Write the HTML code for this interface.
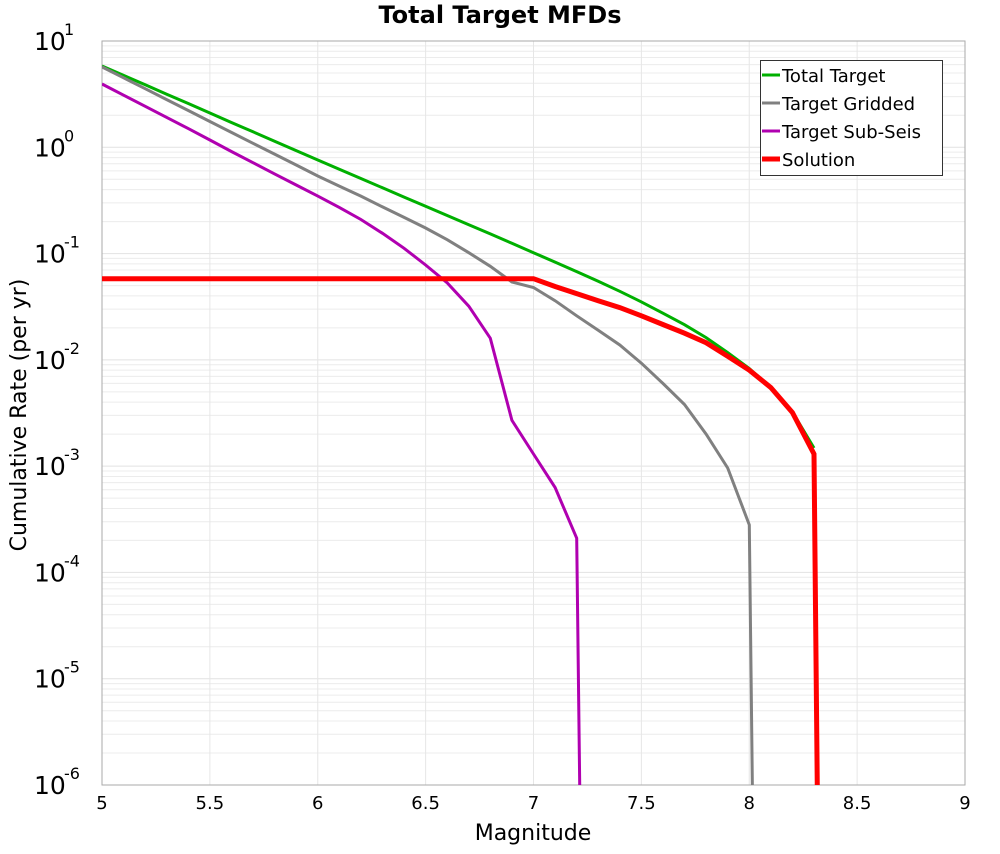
<!DOCTYPE html>
<html><head><meta charset="utf-8"><style>
body{margin:0;background:#fff;width:1000px;height:850px;overflow:hidden;font-family:"DejaVu Sans","Liberation Sans",sans-serif}
</style></head><body>
<svg id="chart" width="1000" height="850" xmlns="http://www.w3.org/2000/svg" font-family="DejaVu Sans, Liberation Sans, sans-serif"></svg>
<script>
const mags = [5.0,5.1,5.2,5.3,5.4,5.5,5.6,5.7,5.8,5.9,6.0,6.1,6.2,6.3,6.4,6.5,6.6,6.7,6.8,6.9,7.0,7.1,7.2,7.3,7.4,7.5,7.6,7.7,7.8,7.9,8.0,8.1,8.2,8.3];
const totalTarget = [5.82,4.75,3.87,3.16,2.58,2.10,1.71,1.40,1.14,0.931,0.759,0.621,0.508,0.416,0.340,0.279,0.228,0.187,0.153,0.125,0.102,0.0832,0.0676,0.0550,0.0442,0.0351,0.0275,0.0214,0.0162,0.0117,0.0083,0.0055,0.00324,0.00148];
const griddedMags = [5.0,5.1,5.2,5.3,5.4,5.5,5.6,5.7,5.8,5.9,6.0,6.1,6.2,6.3,6.4,6.5,6.6,6.7,6.8,6.9,7.0,7.1,7.2,7.3,7.4,7.5,7.6,7.7,7.8,7.9,8.0,8.02];
const targetGridded = [5.70,4.51,3.56,2.81,2.22,1.75,1.38,1.09,0.863,0.681,0.537,0.431,0.347,0.275,0.219,0.174,0.135,0.102,0.0759,0.054,0.048,0.036,0.026,0.019,0.0138,0.0093,0.0060,0.0038,0.0020,0.00096,0.00028,1e-7];
const subSeisMags = [5.0,5.1,5.2,5.3,5.4,5.5,5.6,5.7,5.8,5.9,6.0,6.1,6.2,6.3,6.4,6.5,6.6,6.7,6.8,6.9,7.0,7.1,7.2,7.22];
const targetSubSeis = [3.94,3.09,2.43,1.91,1.50,1.17,0.912,0.716,0.562,0.442,0.347,0.272,0.209,0.155,0.112,0.078,0.053,0.032,0.016,0.0027,0.0013,0.00063,0.00021,1e-7];
const solutionMags = [5.0,7.0,7.1,7.2,7.3,7.4,7.5,7.6,7.7,7.8,7.9,8.0,8.1,8.2,8.3,8.32];
const solution = [0.058,0.058,0.049,0.042,0.036,0.031,0.026,0.0215,0.0178,0.0145,0.0108,0.0080,0.0055,0.0032,0.0013,1e-7];
const xTicks = [5,5.5,6,6.5,7,7.5,8,8.5,9];
const xTickLabels = ["5","5.5","6","6.5","7","7.5","8","8.5","9"];
const yExps = [1,0,-1,-2,-3,-4,-5,-6];

const svg = document.getElementById('chart');
const NS = 'http://www.w3.org/2000/svg';
const L=102,R=965,T=41,B=785;
const xs = m => L + (m-5)/(9-5)*(R-L);
const ys = v => T + (1-Math.log10(v))/7*(B-T);
function mk(tag, attrs){const e=document.createElementNS(NS,tag);for(const k in attrs)e.setAttribute(k,attrs[k]);svg.appendChild(e);return e;}

const defs = mk('defs',{});
const cp = document.createElementNS(NS,'clipPath'); cp.setAttribute('id','clip');
const cr = document.createElementNS(NS,'rect'); cr.setAttribute('x',L);cr.setAttribute('y',T);cr.setAttribute('width',R-L);cr.setAttribute('height',B-T);
cp.appendChild(cr); defs.appendChild(cp);

for(let e=1;e>-6;e--){for(let k=1;k<10;k++){const v=k*Math.pow(10,e-1);const y=ys(v);
 const g=mk('line',{x1:L,x2:R,y1:y,y2:y,stroke:k===1?'#e2e2e2':'#ececec','stroke-width':1});
 
 }}
xTicks.forEach((m,i)=>{const x=xs(m);
 const g=mk('line',{x1:x,x2:x,y1:T,y2:B,stroke:'#e6e6e6','stroke-width':1});
 
 
 const t=mk('text',{x:x,y:809,'font-size':18,'text-anchor':'middle',fill:'#000'});
 t.textContent=xTickLabels[i];
 
 });
yExps.forEach(e=>{const y=ys(Math.pow(10,e));
 const t=mk('text',{x:34,y:y+9,'font-size':25,fill:'#000'});
 t.textContent='10';
 
 
 const s=mk('text',{x:64,y:y-6,'font-size':16,fill:'#000'});
 s.textContent=String(e);
 
 });
const fr=mk('rect',{x:L,y:T,width:R-L,height:B-T,fill:'none',stroke:'#aaa','stroke-width':1});



function series(xv,yv,color,w,name){
 const pts=xv.map((m,i)=>xs(m).toFixed(1)+','+ys(yv[i]).toFixed(1)).join(' ');
 const p=mk('polyline',{points:pts,fill:'none',stroke:color,'stroke-width':w,'clip-path':'url(#clip)','stroke-linejoin':'miter'});
 
 }
series(mags,totalTarget,'#00b000',3,'total-target-line');
series(griddedMags,targetGridded,'#808080',3,'target-gridded-line');
series(subSeisMags,targetSubSeis,'#b000b0',3,'target-sub-seis-line');
series(solutionMags,solution,'#ff0000',5,'solution-line');

const lg=mk('rect',{x:760.5,y:60.5,width:182,height:115,fill:'#fff',stroke:'#333','stroke-width':1});


[['Total Target','#00b000',3],['Target Gridded','#808080',3],['Target Sub-Seis','#b000b0',3],['Solution','#ff0000',5]].forEach((d,i)=>{
 const y=75+i*28;
 const l=mk('line',{x1:762,x2:780,y1:y,y2:y,stroke:d[1],'stroke-width':d[2]});
 
 
 const t=mk('text',{x:782,y:y+7,'font-size':18,fill:'#000'});
 t.textContent=d[0];
 
 });

const ti=mk('text',{x:500,y:23,'font-size':24,'font-weight':'bold','text-anchor':'middle'});
ti.textContent='Total Target MFDs';


const xt=mk('text',{x:533,y:840,'font-size':22,'text-anchor':'middle'});
xt.textContent='Magnitude';


const yt=mk('text',{x:0,y:0,'font-size':22,'text-anchor':'middle',transform:'translate(26,415) rotate(-90)'});
yt.textContent='Cumulative Rate (per yr)';


</script>
</body></html>
